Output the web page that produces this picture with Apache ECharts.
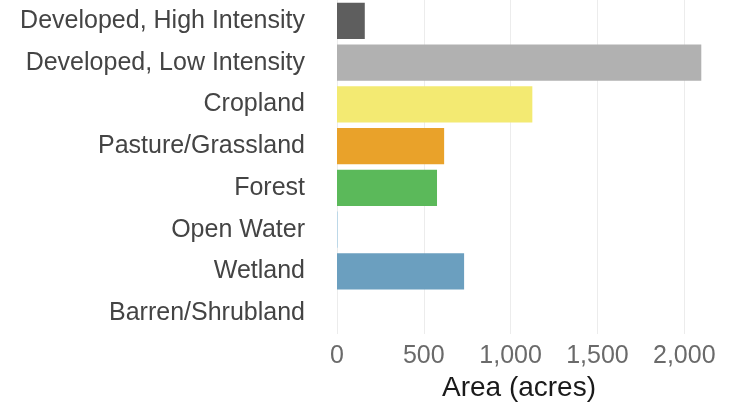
<!DOCTYPE html>
<html><head><meta charset="utf-8">
<script src="https://cdn.jsdelivr.net/npm/echarts@6/dist/echarts.min.js"></script>
<style>html,body{margin:0;padding:0;background:#fff}#c{width:738px;height:409px}</style>
</head><body><div id="c"></div>
<script>
var categories = ["Developed, High Intensity","Developed, Low Intensity","Cropland","Pasture/Grassland","Forest","Open Water","Wetland","Barren/Shrubland"];
var areaAcres = [160, 2098, 1125, 617, 576, 4, 732, 0];
var barColors = ["#5e5e5e","#b1b1b1","#f3ea72","#e9a22a","#5bb95a","#a9cfe6","#6b9fbf","#cccccc"];
var xTicks = [0, 500, 1000, 1500, 2000];

var chart = echarts.init(document.getElementById('c'));
chart.setOption({
  animation: false,
  grid: {left: 337, right: 19, top: 0, bottom: 75},
  xAxis: {
    type: 'value', min: 0, max: 2200, interval: 500,
    name: 'Area (acres)', nameLocation: 'middle', nameGap: 40,
    nameTextStyle: {fontFamily: 'Liberation Sans', fontSize: 28, color: '#1a1a1a', padding: [0, 18, 0, 0]},
    axisLine: {show: false}, axisTick: {show: false},
    axisLabel: {fontFamily: 'Liberation Sans', fontSize: 25, color: '#6a6a6a', margin: 10, showMaxLabel: false,
      formatter: function(v){ return xTicks.indexOf(v) >= 0 ? v.toLocaleString('en-US') : ''; }},
    splitLine: {showMaxLine: false, lineStyle: {color: '#ececec', width: 1}}
  },
  yAxis: {
    type: 'category', data: categories, inverse: true,
    axisLine: {show: false}, axisTick: {show: false},
    axisLabel: {fontFamily: 'Liberation Sans', fontSize: 25, color: '#444', margin: 32}
  },
  series: [{
    type: 'bar', barCategoryGap: '13%',
    data: areaAcres.map(function(v, i){ return {value: v, itemStyle: {color: barColors[i]}}; })
  }]
});
</script></body></html>
